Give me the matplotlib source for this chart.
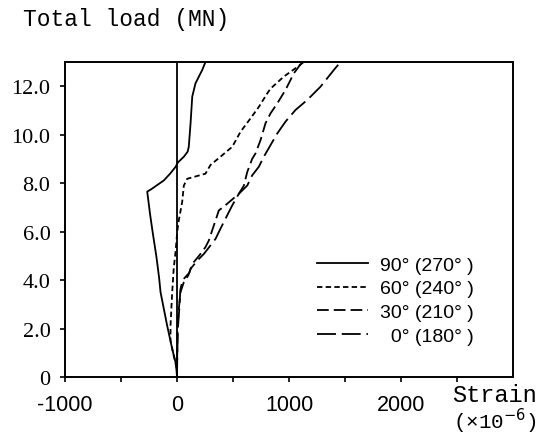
#!/usr/bin/env python3

import matplotlib
matplotlib.use("Agg")
import matplotlib.pyplot as plt

# strain (x 10^-6) vs total load (MN)
load_90 = [0, 0.3, 0.6, 1.16, 2.12, 3.5, 4.1, 5.0, 5.9, 6.7, 7.65, 7.75, 8.11, 8.4,
           8.67, 8.85, 9.09, 9.3, 9.5, 10.47, 11.57, 12.12, 12.67, 13.0]
strain_90 = [0, -5, -13, -43, -88, -147, -160, -185, -215, -240, -266, -230, -118, -60,
             -13, 7, 61, 95, 105, 121, 136, 165, 225, 254]

load_60 = [0, 0.33, 0.88, 1.5, 2.12, 3.5, 4.5, 5.16, 6.0, 6.46, 7.22, 7.9, 8.18, 8.39,
           8.75, 9.09, 9.5, 10.12, 10.67, 11.15, 11.7, 11.9, 12.4, 12.79, 13.0]
strain_60 = [0, 0, -29, -58, -58, -43, -29, -13, 2, 16, 46, 61, 91, 254,
             299, 388, 493, 567, 656, 731, 805, 835, 954, 1073, 1132]

load_30 = [0, 1.0, 2.1, 2.8, 3.5, 3.9, 4.19, 4.46, 4.74, 5.08, 5.36, 5.63, 6.05, 6.46,
           6.87, 7.15, 7.56, 7.9, 8.46, 9.0, 9.23, 9.78, 10.47, 10.88, 11.29, 11.85,
           12.53, 13.0]
strain_30 = [0, 2, 5, 16, 31, 60, 100, 121, 150, 210, 254, 284, 314, 344,
             373, 448, 552, 597, 627, 671, 701, 746, 790, 835, 895, 969,
             1043, 1118]

load_0 = [0, 1.0, 2.0, 2.8, 3.6, 4.0, 4.3, 4.46, 4.8, 5.08, 5.43, 5.7, 6.12, 6.67,
          7.08, 7.56, 7.9, 8.32, 8.68, 9.09, 9.57, 10.05, 10.54, 11.02, 11.43, 11.98,
          12.67, 13.0]
strain_0 = [0, 3, 8, 20, 30, 50, 110, 121, 180, 240, 299, 344, 388, 448,
            493, 552, 627, 671, 731, 775, 835, 895, 969, 1058, 1162, 1281,
            1400, 1460]

labels = ["90\u00b0 (270\u00b0 )", "60\u00b0 (240\u00b0 )",
          "30\u00b0 (210\u00b0 )", "\u20070\u00b0 (180\u00b0 )"]

x_ticks = [-1000, 0, 1000, 2000]
x_tick_labels = ["-1000", "0", "1000", "2000"]
x_minor = [-500, 500, 1500, 2500]
y_ticks = [0, 2, 4, 6, 8, 10, 12]
y_tick_labels = ["0", "2.0", "4.0", "6.0", "8.0", "10.0", "12.0"]

sans = ["Liberation Sans", "DejaVu Sans"]
serif = ["Liberation Serif", "DejaVu Serif"]
mono = ["Liberation Mono", "DejaVu Sans Mono"]

fig = plt.figure(figsize=(5.39, 4.39), dpi=100)
ax = fig.add_axes([0.1206, 0.139, 0.8312, 0.7175])

ax.axvline(0, color="black", lw=1.3)
ax.plot(strain_90, load_90, color="black", lw=1.3, ls="-", label=labels[0])
ax.plot(strain_60, load_60, color="black", lw=1.3, ls=(0, (3.0, 1.8)), label=labels[1])
ax.plot(strain_30, load_30, color="black", lw=1.3, ls=(0, (6.5, 2.8)), label=labels[2])
ax.plot(strain_0, load_0, color="black", lw=1.3, ls=(0, (10.5, 3.2)), label=labels[3])

ax.set_xlim(-1000, 3000)
ax.set_ylim(0, 13)

ax.set_xticks(x_ticks)
ax.set_xticklabels(x_tick_labels, family=sans, fontsize=15.5)
ax.set_xticks(x_minor, minor=True)
ax.set_yticks(y_ticks)
ax.set_yticklabels(y_tick_labels, family=serif, fontsize=16)

ax.tick_params(axis="both", which="both", direction="out", length=3.5, width=1.2,
               color="black")
ax.tick_params(axis="x", which="major", pad=9)
ax.tick_params(axis="y", which="major", pad=7)
for sp in ax.spines.values():
    sp.set_linewidth(1.4)

leg = ax.legend(loc="upper left", bbox_to_anchor=(0.563, 0.384), frameon=False,
                prop={"family": sans, "size": 14}, handlelength=2.6,
                handletextpad=0.65, labelspacing=0.32, borderpad=0, borderaxespad=0)

fig.text(0.043, 0.955, "Total load (MN)", family=mono, fontsize=16.5,
         ha="left", va="center")
fig.text(0.838, 0.100, "Strain", family=mono, fontsize=17, ha="left", va="center")
fig.text(0.84, 0.041, "(\u00d710$^{-6}$)", family=mono, fontsize=15,
         ha="left", va="center")

plt.savefig("out.png", dpi=100)
